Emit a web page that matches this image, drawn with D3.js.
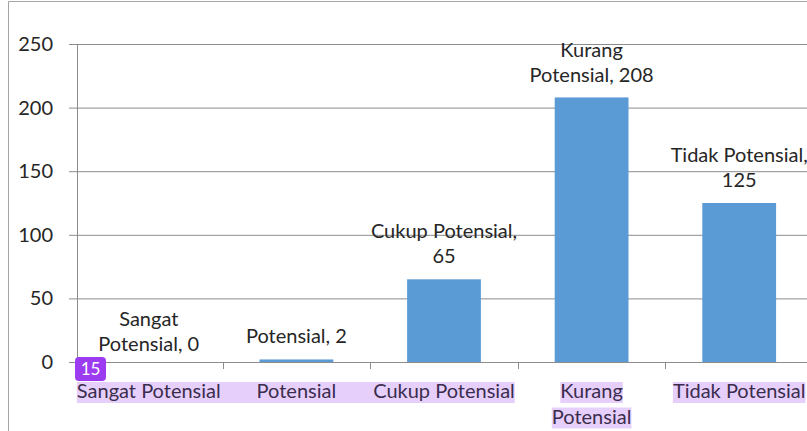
<!DOCTYPE html>
<html>
<head>
<meta charset="utf-8">
<script src="https://cdn.jsdelivr.net/npm/d3@7"></script>
<style>
  body { margin: 0; background: #fff; }
  svg { display: block; }
</style>
</head>
<body>
<div id="chart"></div>
<script>
// data
var categories = ['Sangat Potensial', 'Potensial', 'Cukup Potensial', 'Kurang Potensial', 'Tidak Potensial'];
var values = [0, 2, 65, 208, 125];
var yTicks = [0, 50, 100, 150, 200, 250];
// axis label lines (as wrapped in the picture)
var catLines = [['Sangat Potensial'], ['Potensial'], ['Cukup Potensial'], ['Kurang', 'Potensial'], ['Tidak Potensial']];
// data label lines
var valueLines = [['Sangat', 'Potensial, 0'], ['Potensial, 2'], ['Cukup Potensial,', '65'], ['Kurang', 'Potensial, 208'], ['Tidak Potensial,', '125']];

// layout
var W = 807, H = 431,
    plotL = 77, plotT = 44, plotB = 362,
    bandL = 75, bandR = 813, // category band range (slightly off the axis, as drawn)
    font = 'Lato, sans-serif', fs = 20, lh = 25.5,
    lift = [11, 16, 16, 15, 16]; // gap from bar top to last label baseline

var svg = d3.select('#chart').append('svg')
  .attr('width', W).attr('height', H);

// frame
svg.append('path')
  .attr('d', 'M8.5,' + H + 'V1.5H' + W)
  .attr('fill', 'none').attr('stroke', '#a6a6a6');

var x = d3.scaleBand().domain(categories).range([bandL, bandR])
  .paddingInner(0.5).paddingOuter(0.25);
var y = d3.scaleLinear().domain([0, 250]).range([plotB, plotT]);

// gridlines + y labels
var yAxis = svg.append('g').attr('transform', 'translate(' + plotL + ',0)')
  .call(d3.axisLeft(y).tickValues(yTicks).tickSize(-(W - plotL)).tickSizeOuter(0).tickPadding(24));
yAxis.select('.domain').remove();
yAxis.selectAll('.tick line').attr('stroke', '#8c8c8c').attr('x1', -8);
yAxis.selectAll('.tick text')
  .attr('font-family', font).attr('font-size', fs).attr('fill', '#262626');

// y axis line
svg.append('line')
  .attr('x1', plotL + 0.5).attr('x2', plotL + 0.5)
  .attr('y1', y(250)).attr('y2', y(0))
  .attr('stroke', '#8c8c8c');

// bars
svg.selectAll('rect.bar').data(values).enter().append('rect')
  .attr('class', 'bar')
  .attr('x', function(d, i) { return x(categories[i]); })
  .attr('width', x.bandwidth())
  .attr('y', function(d) { return y(d); })
  .attr('height', function(d) { return y(0) - y(d); })
  .attr('fill', '#5b9bd5');

// x axis line + category ticks
svg.append('line')
  .attr('x1', plotL - 8).attr('x2', W)
  .attr('y1', plotB + 0.5).attr('y2', plotB + 0.5)
  .attr('stroke', '#8c8c8c');
categories.forEach(function(c, i) {
  if (i == 0) return;
  var tx = Math.round(x(c) - x.step() * 0.25) + 0.5;
  svg.append('line')
    .attr('x1', tx).attr('x2', tx)
    .attr('y1', plotB).attr('y2', plotB + 7)
    .attr('stroke', '#8c8c8c');
});

// data labels
valueLines.forEach(function(lines, i) {
  var cx = x(categories[i]) + x.bandwidth() / 2,
      yb = y(values[i]) - lift[i];
  lines.forEach(function(s, k) {
    svg.append('text')
      .attr('x', cx).attr('y', yb - (lines.length - 1 - k) * lh)
      .attr('text-anchor', 'middle')
      .attr('font-family', font).attr('font-size', fs)
      .attr('fill', '#262626')
      .text(s);
  });
});

// category labels with purple highlight
var hl = svg.append('g'), cl = svg.append('g');
var boxes = [];
catLines.forEach(function(lines, i) {
  var cx = x(categories[i]) + x.bandwidth() / 2;
  lines.forEach(function(s, k) {
    var t = cl.append('text')
      .attr('x', cx).attr('y', 398 + k * lh)
      .attr('text-anchor', 'middle')
      .attr('font-family', font).attr('font-size', fs)
      .attr('fill', '#3b2c4d')
      .text(s);
    var b = t.node().getBBox();
    boxes.push({i: i, k: k, x0: b.x, x1: b.x + b.width});
  });
});
var first = boxes.filter(function(b) { return b.k == 0 && b.i <= 2; });
var fx0 = d3.min(first, function(b) { return b.x0; }),
    fx1 = d3.max(first, function(b) { return b.x1; });
hl.append('rect')
  .attr('x', fx0).attr('width', fx1 - fx0)
  .attr('y', 382).attr('height', 21).attr('fill', '#e6d0fb');
boxes.filter(function(b) { return b.i > 2; }).forEach(function(b) {
  hl.append('rect')
    .attr('x', b.x0).attr('width', b.x1 - b.x0)
    .attr('y', 382 + b.k * lh).attr('height', 21).attr('fill', '#e6d0fb');
});

// badge
var badge = svg.append('g').attr('transform', 'translate(75,357)');
badge.append('rect').attr('width', 31).attr('height', 24).attr('rx', 4)
  .attr('fill', '#9c3cf0');
badge.append('text').attr('x', 15.5).attr('y', 18)
  .attr('text-anchor', 'middle')
  .attr('font-family', font).attr('font-size', 17).attr('fill', '#fff')
  .text('15');
</script>
</body>
</html>
